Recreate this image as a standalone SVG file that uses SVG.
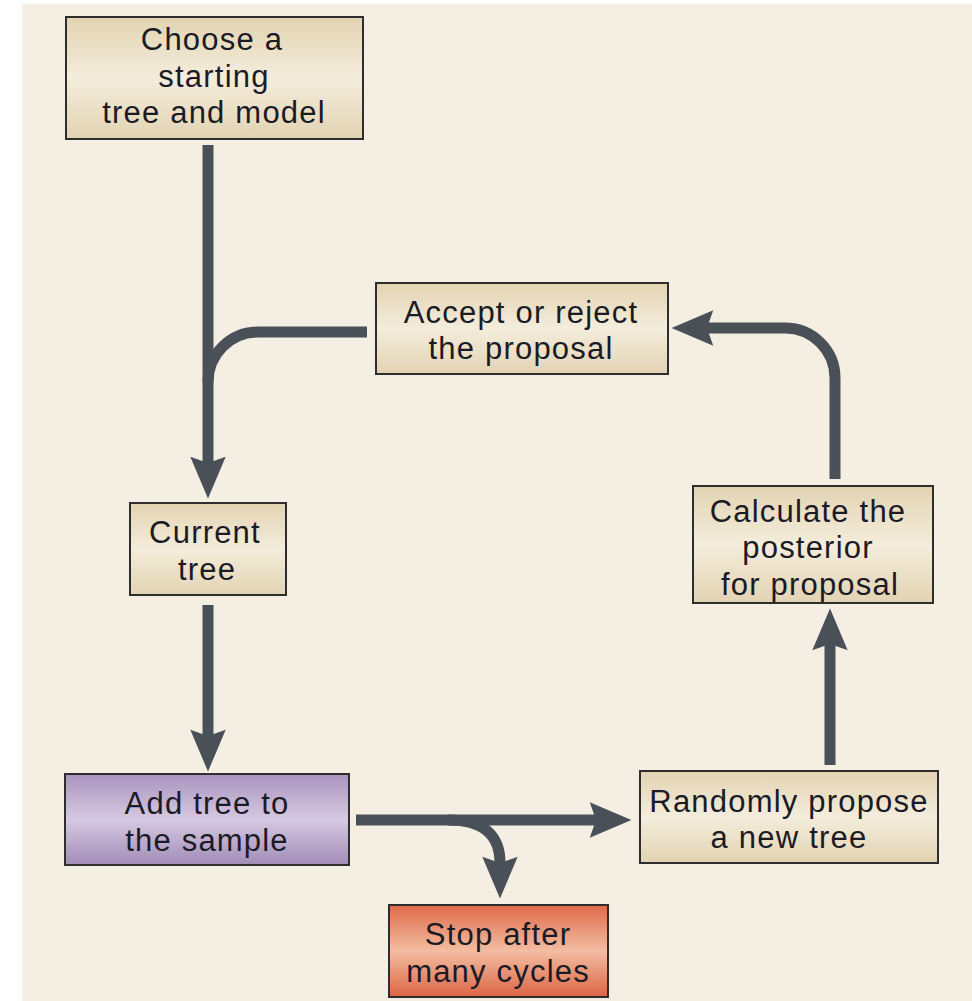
<svg xmlns="http://www.w3.org/2000/svg" width="972" height="1001" viewBox="0 0 972 1001">
  <defs>
    <linearGradient id="tan" x1="0" y1="0" x2="0" y2="1">
      <stop offset="0" stop-color="#e2d3b2"/>
      <stop offset="0.5" stop-color="#f4eddc"/>
      <stop offset="1" stop-color="#e2d3b2"/>
    </linearGradient>
    <linearGradient id="lilac" x1="0" y1="0" x2="0" y2="1">
      <stop offset="0" stop-color="#a893bd"/>
      <stop offset="0.5" stop-color="#d6c9e2"/>
      <stop offset="1" stop-color="#a18cb6"/>
    </linearGradient>
    <linearGradient id="coral" x1="0" y1="0" x2="0" y2="1">
      <stop offset="0" stop-color="#df6a48"/>
      <stop offset="0.5" stop-color="#f3bda2"/>
      <stop offset="1" stop-color="#dc6444"/>
    </linearGradient>
    <marker id="head" markerUnits="userSpaceOnUse" markerWidth="50" markerHeight="40" refX="0" refY="0" viewBox="-7 -18 48 36" orient="auto" overflow="visible">
      <path d="M-6,-17 L34,0 L-6,17 L0,0 Z" fill="#4a5058"/>
    </marker>
    <style>
      .box { stroke: #2e2e2e; stroke-width: 2; }
      .lbl { font-family: "Liberation Sans", Arial, sans-serif; font-size: 31px; letter-spacing: 1.2px; fill: #1b1b26; text-anchor: middle; }
      .wire { fill: none; stroke: #4a5058; stroke-width: 11; }
      .tip { marker-end: url(#head); }
    </style>
  </defs>

  <!-- page -->
  <rect x="0" y="0" width="972" height="1001" fill="#ffffff"/>
  <rect x="22" y="4" width="950" height="997" fill="#f5eee3"/>

  <!-- connectors -->
  <g id="connectors">
    <path class="wire tip" d="M208,145 V463"/>
    <path class="wire" d="M367,332 H258 A50,50 0 0 0 208,382"/>
    <path class="wire tip" d="M208,605 V736"/>
    <path class="wire tip" d="M356,820 H596"/>
    <path class="wire tip" d="M448,820 Q500,820 500,863"/>
    <path class="wire tip" d="M830,765 V644"/>
    <path class="wire tip" d="M835,479 V378 A50,50 0 0 0 785,328 H707"/>
  </g>

  <g id="start">
    <rect class="box" x="66" y="17" width="297" height="122" fill="url(#tan)"/>
    <text class="lbl" x="212" y="50">Choose a</text>
    <text class="lbl" x="214" y="87">starting</text>
    <text class="lbl" x="214" y="123">tree and model</text>
  </g>

  <g id="accept">
    <rect class="box" x="376" y="283" width="292" height="91" fill="url(#tan)"/>
    <text class="lbl" x="521" y="323">Accept or reject</text>
    <text class="lbl" x="521" y="359">the proposal</text>
  </g>

  <g id="current">
    <rect class="box" x="130" y="503" width="156" height="92" fill="url(#tan)"/>
    <text class="lbl" x="205" y="543">Current</text>
    <text class="lbl" x="207" y="580">tree</text>
  </g>

  <g id="calculate">
    <rect class="box" x="693" y="486" width="240" height="117" fill="url(#tan)"/>
    <text class="lbl" x="808" y="522">Calculate the</text>
    <text class="lbl" x="808" y="558">posterior</text>
    <text class="lbl" x="810" y="595">for proposal</text>
  </g>

  <g id="add">
    <rect class="box" x="65" y="774" width="284" height="91" fill="url(#lilac)"/>
    <text class="lbl" x="207" y="814">Add tree to</text>
    <text class="lbl" x="207" y="851">the sample</text>
  </g>

  <g id="propose">
    <rect class="box" x="640" y="771" width="298" height="92" fill="url(#tan)"/>
    <text class="lbl" x="789" y="812">Randomly propose</text>
    <text class="lbl" x="789" y="848">a new tree</text>
  </g>

  <g id="stop">
    <rect class="box" x="389" y="905" width="219" height="92" fill="url(#coral)"/>
    <text class="lbl" x="498" y="945">Stop after</text>
    <text class="lbl" x="498" y="982">many cycles</text>
  </g>
</svg>
